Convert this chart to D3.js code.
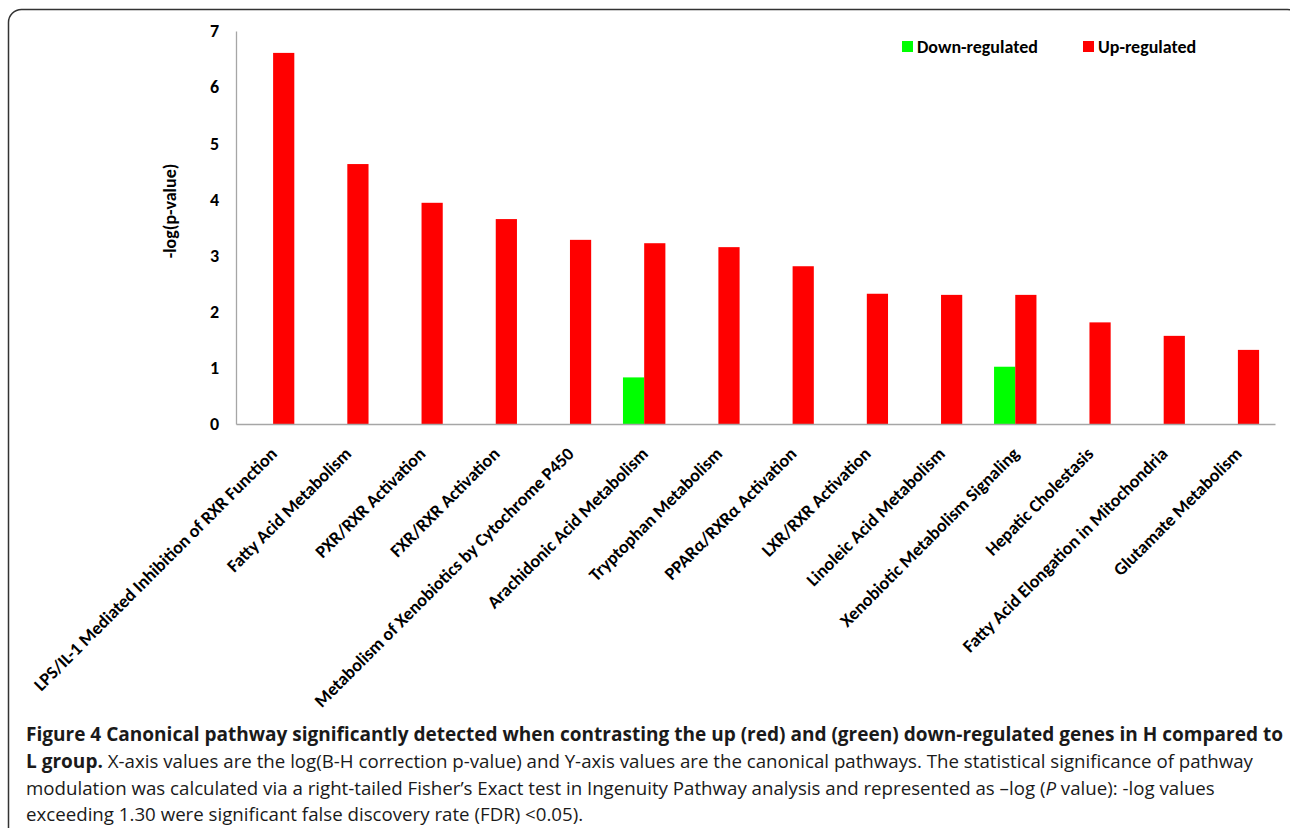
<!DOCTYPE html>
<html>
<head>
<meta charset="utf-8">
<script src="https://cdn.jsdelivr.net/npm/d3@7"></script>
<style>
  body { margin: 0; background: #fff; }
  svg { display: block; }
</style>
</head>
<body>
<div id="chart"></div>
<script>
// pathways on the x axis, in the order of the figure
const pathways = [
  "LPS/IL-1 Mediated Inhibition of RXR Function",
  "Fatty Acid Metabolism",
  "PXR/RXR Activation",
  "FXR/RXR Activation",
  "Metabolism of Xenobiotics by Cytochrome P450",
  "Arachidonic Acid Metabolism",
  "Tryptophan Metabolism",
  "PPARα/RXRα Activation",
  "LXR/RXR Activation",
  "Linoleic Acid Metabolism",
  "Xenobiotic Metabolism Signaling",
  "Hepatic Cholestasis",
  "Fatty Acid Elongation in Mitochondria",
  "Glutamate Metabolism"
];
const series = ["Down-regulated", "Up-regulated"];
const downValues = [0, 0, 0, 0, 0, 0.83, 0, 0, 0, 0, 1.02, 0, 0, 0];
const upValues = [6.61, 4.63, 3.94, 3.65, 3.28, 3.22, 3.15, 2.81, 2.32, 2.30, 2.30, 1.81, 1.57, 1.32];
const yTicks = [0, 1, 2, 3, 4, 5, 6, 7];
const colors = ["#00ff00", "#ff0000"];

const width = 1290, height = 828;
const labelFont = "Carlito, Lato, sans-serif";
const labelSize = "18px";
const capFont = "'Open Sans', sans-serif";

const svg = d3.select("#chart")
  .append("svg")
  .attr("width", width)
  .attr("height", height);

// frame round the figure (only the top-left corner shows)
svg.append("rect")
  .attr("x", 8.5).attr("y", 9.5)
  .attr("width", 1292).attr("height", 900)
  .attr("rx", 13)
  .attr("fill", "none")
  .attr("stroke", "#333")
  .attr("stroke-width", 1.5);

const x0 = d3.scaleBand()
  .domain(pathways)
  .range([236, 1275])
  .padding(0);

// two bars in each band, 150% gap like excel
const x1 = d3.scaleBand()
  .domain(series)
  .range([0, x0.bandwidth()])
  .paddingInner(0)
  .paddingOuter(0.75);

const y = d3.scaleLinear()
  .domain([0, 7])
  .range([424, 31]);

const rows = pathways.map((p, i) => ({
  pathway: p,
  values: [
    { key: series[0], value: downValues[i] },
    { key: series[1], value: upValues[i] }
  ]
}));

// bars
const group = svg.selectAll(".group")
  .data(rows)
  .join("g")
  .attr("class", "group")
  .attr("transform", d => `translate(${x0(d.pathway)},0)`);

group.selectAll("rect")
  .data(d => d.values.filter(v => v.value > 0))
  .join("rect")
  .attr("x", d => x1(d.key))
  .attr("width", x1.bandwidth())
  .attr("y", d => y(d.value))
  .attr("height", d => y(0) - y(d.value))
  .attr("fill", d => colors[series.indexOf(d.key)]);

// y axis
const yAxis = svg.append("g")
  .attr("transform", "translate(236,0)")
  .call(d3.axisLeft(y).tickValues(yTicks).tickFormat(d3.format("d")).tickSize(0).tickPadding(17));
yAxis.select(".domain").attr("stroke", "#a6a6a6").attr("stroke-width", 1.3);
yAxis.selectAll("text")
  .attr("font-family", labelFont)
  .attr("font-weight", "bold")
  .attr("font-size", labelSize)
  .attr("fill", "#000");

// x axis, labels slanted at 45 degrees
const xAxis = svg.append("g")
  .attr("transform", `translate(0,${y(0)})`)
  .call(d3.axisBottom(x0).tickSize(0).tickSizeOuter(0));
xAxis.select(".domain").attr("stroke", "#a6a6a6").attr("stroke-width", 1.3);
xAxis.selectAll("text")
  .attr("y", null)
  .attr("dy", null)
  .attr("text-anchor", "end")
  .attr("transform", "translate(5,31) rotate(-45)")
  .attr("font-family", labelFont)
  .attr("font-weight", "bold")
  .attr("font-size", labelSize)
  .attr("fill", "#000");

// y axis title
svg.append("text")
  .attr("transform", "translate(176,211) rotate(-90)")
  .attr("text-anchor", "middle")
  .attr("font-family", labelFont)
  .attr("font-weight", "bold")
  .attr("font-size", labelSize)
  .text("-log(p-value)");

// legend
const legendX = [902, 1083];
const legend = svg.selectAll(".legend")
  .data(series)
  .join("g")
  .attr("class", "legend")
  .attr("transform", (d, i) => `translate(${legendX[i]},41)`);
legend.append("rect")
  .attr("width", 11).attr("height", 11)
  .attr("fill", (d, i) => colors[i]);
legend.append("text")
  .attr("x", 15).attr("y", 12)
  .attr("font-family", labelFont)
  .attr("font-weight", "bold")
  .attr("font-size", labelSize)
  .text(d => d);

// caption
const cap = svg.append("g")
  .attr("font-family", capFont)
  .attr("font-size", "18.7px")
  .attr("fill", "#1a1a1a");

cap.append("text")
  .attr("x", 26).attr("y", 741)
  .attr("font-weight", "bold")
  .attr("font-size", "19.05px")
  .text("Figure 4 Canonical pathway significantly detected when contrasting the up (red) and (green) down-regulated genes in H compared to");

const l2 = cap.append("text").attr("x", 26).attr("y", 768);
l2.append("tspan").attr("font-weight", "bold").attr("font-size", "19.05px").text("L group.");
l2.append("tspan").text(" X-axis values are the log(B-H correction p-value) and Y-axis values are the canonical pathways. The statistical significance of pathway");

const l3 = cap.append("text").attr("x", 26).attr("y", 795);
l3.append("tspan").text("modulation was calculated via a right-tailed Fisher’s Exact test in Ingenuity Pathway analysis and represented as –log (");
l3.append("tspan").attr("font-style", "italic").text("P");
l3.append("tspan").text(" value): -log values");

cap.append("text")
  .attr("x", 26).attr("y", 821)
  .text("exceeding 1.30 were significant false discovery rate (FDR) <0.05).");
</script>
</body>
</html>
